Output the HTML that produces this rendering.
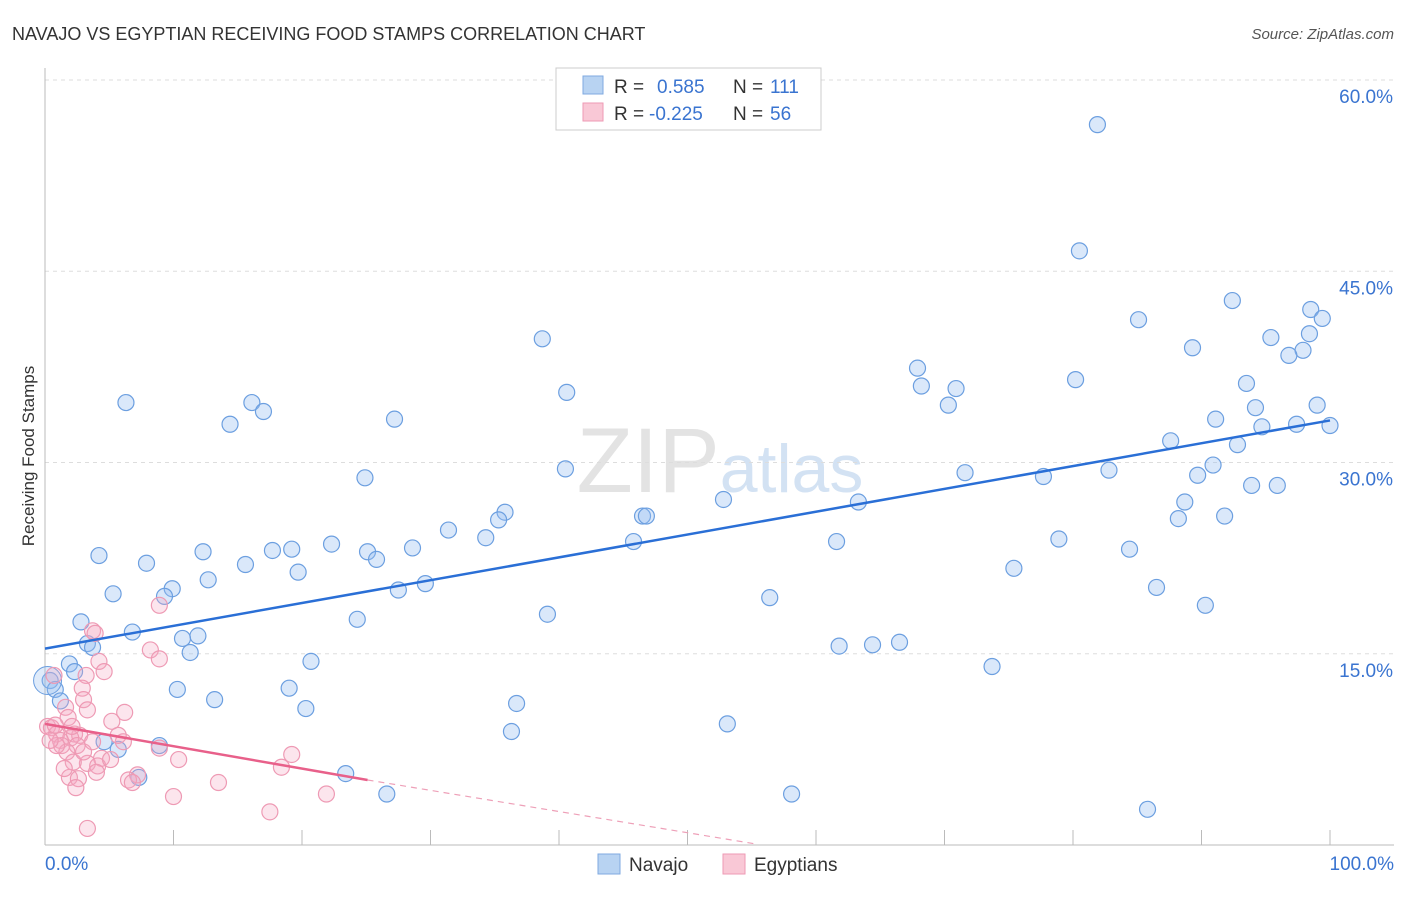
<!DOCTYPE html>
<html><head><meta charset="utf-8"><style>
body{margin:0;background:#fff;font-family:"Liberation Sans",sans-serif;}
svg text{font-family:"Liberation Sans",sans-serif;}
</style></head><body>
<svg id="chart" width="1406" height="892" xmlns="http://www.w3.org/2000/svg">
<text x="12" y="40" font-size="18" fill="#333">NAVAJO VS EGYPTIAN RECEIVING FOOD STAMPS CORRELATION CHART</text>
<text x="1394" y="39" font-size="15" fill="#555" text-anchor="end" font-style="italic">Source: ZipAtlas.com</text>
<text transform="translate(34,456) rotate(-90)" font-size="17" fill="#333" text-anchor="middle">Receiving Food Stamps</text>
<text x="720" y="492" font-size="92" fill="#e3e3e3" text-anchor="middle" font-family="Liberation Serif">ZIP<tspan fill="#d3e2f3" font-family="Liberation Sans" font-size="68">atlas</tspan></text>
<g id="grid"></g><g id="axes"></g><g id="pts"></g><g id="lines"></g>
<g>
<rect x="556" y="68" width="265" height="62" fill="#fff" stroke="#ccc"/>
<rect x="583" y="76" width="20" height="18" fill="#b8d3f2" stroke="#7fa9e0"/>
<rect x="583" y="103" width="20" height="18" fill="#f9c8d6" stroke="#ee9ab4"/>
<text x="614" y="93" font-size="19" fill="#333">R = </text><text x="657" y="93" font-size="19" fill="#3a74d0">0.585</text>
<text x="733" y="93" font-size="19" fill="#333">N = </text><text x="770" y="93" font-size="19" fill="#3a74d0">111</text>
<text x="614" y="120" font-size="19" fill="#333">R = </text><text x="649" y="120" font-size="19" fill="#3a74d0">-0.225</text>
<text x="733" y="120" font-size="19" fill="#333">N = </text><text x="770" y="120" font-size="19" fill="#3a74d0">56</text>
</g>
<g>
<rect x="598" y="854" width="22" height="20" fill="#b8d3f2" stroke="#7fa9e0"/>
<text x="629" y="871" font-size="19" fill="#333">Navajo</text>
<rect x="723" y="854" width="22" height="20" fill="#f9c8d6" stroke="#ee9ab4"/>
<text x="754" y="871" font-size="19" fill="#333">Egyptians</text>
</g>
</svg>
<script>
const navajoPx=[[1098,125],[1080,251],[1232,300],[1311,310],[1322,318],[1138,320],[1271,337],[1309,334],[1193,348],[1303,350],[1289,355],[542,339],[917,368],[1075,380],[1246,384],[921,386],[956,389],[567,393],[126,403],[252,403],[948,405],[263,411],[1256,408],[1317,405],[1216,419],[230,424],[395,419],[1262,427],[1296,424],[1330,426],[1171,441],[1237,445],[565,469],[965,473],[1109,470],[1213,465],[1198,475],[365,478],[1043,477],[1251,485],[1277,486],[723,499],[859,502],[1185,502],[505,512],[499,520],[643,516],[646,516],[1179,518],[1224,516],[449,530],[486,538],[633,542],[836,542],[1059,539],[331,544],[273,550],[292,549],[203,552],[99,555],[367,552],[413,548],[1130,549],[376,559],[146,563],[245,564],[298,572],[1014,568],[208,580],[172,589],[425,584],[399,590],[1156,588],[113,594],[165,597],[770,598],[548,614],[1205,605],[357,619],[81,622],[133,632],[198,636],[183,639],[87,643],[93,647],[839,646],[872,645],[899,642],[190,653],[311,661],[69,664],[75,671],[992,666],[50,680],[55,690],[177,689],[289,688],[215,700],[61,701],[306,709],[516,704],[727,724],[511,731],[104,742],[159,746],[118,749],[346,773],[139,778],[387,794],[792,794],[1147,809]];
const egyptPx=[[159,605],[93,631],[95,633],[151,650],[159,659],[99,662],[104,671],[86,675],[54,676],[82,688],[84,700],[65,707],[88,710],[125,712],[68,718],[112,721],[48,727],[52,728],[57,734],[75,734],[80,735],[71,738],[60,740],[77,745],[62,745],[124,742],[67,752],[101,758],[179,759],[292,755],[88,764],[73,762],[98,766],[281,767],[138,775],[70,777],[79,779],[128,780],[132,782],[218,782],[76,788],[326,794],[174,797],[270,812],[88,829],[56,745],[50,740],[97,772],[64,768],[118,735],[83,752],[160,748],[55,725],[92,742],[72,726],[110,760]];
// data values in percent
const navajoX=navajoPx.map(p=>+((p[0]-45)/12.85).toFixed(1));
const navajoY=navajoPx.map(p=>+((845-p[1])/12.75).toFixed(1));
const egyptX=egyptPx.map(p=>+((p[0]-45)/12.85).toFixed(1));
const egyptY=egyptPx.map(p=>+((845-p[1])/12.75).toFixed(1));
const yTicks=[15,30,45,60];
const yTickLabels=["15.0%","30.0%","45.0%","60.0%"];
const navajoTrend=[[0,15.4],[100,33.3]];
const egyptTrend=[[0,9.5],[25.1,5.1]];
const egyptTrendExt=[[25.1,5.1],[55.2,0.1]];
const X=v=>45+v*12.85, Y=v=>845-v*12.75;
const NS="http://www.w3.org/2000/svg";
function mk(tag,attrs,parent){const e=document.createElementNS(NS,tag);for(const k in attrs)e.setAttribute(k,attrs[k]);parent.appendChild(e);return e;}
const grid=document.getElementById('grid'),axes=document.getElementById('axes'),pts=document.getElementById('pts'),lines=document.getElementById('lines');
yTicks.forEach((t,i)=>{
 const l=mk('line',{x1:45,x2:1394,y1:Y(t),y2:Y(t),stroke:'#ddd','stroke-dasharray':'4,4'},grid);
 
 
 const tx=mk('text',{x:1393,y:Y(t)+23,'font-size':19,fill:'#3a74d0','text-anchor':'end'},grid);
 tx.textContent=yTickLabels[i];
 
 
});
const ya=mk('line',{x1:45,x2:45,y1:68,y2:845,stroke:'#bbb'},axes);


const xa=mk('line',{x1:45,x2:1394,y1:845,y2:845,stroke:'#bbb'},axes);


for(let i=0;i<=10;i++){const t=mk('line',{x1:X(i*10),x2:X(i*10),y1:830,y2:845,stroke:'#bbb'},axes);
 
 }
[[0,"0.0%",'start',45],[100,"100.0%",'end',1394]].forEach(d=>{const t=mk('text',{x:d[3],y:870,'font-size':19,fill:'#3a74d0','text-anchor':d[2]},axes);t.textContent=d[1];
 
 });
navajoX.forEach((x,i)=>{const c=mk('circle',{cx:X(x),cy:Y(navajoY[i]),r:8,fill:'rgba(150,190,240,0.35)',stroke:'#6c9fe0','stroke-width':1.2},pts);
 
 });
const big=mk('circle',{cx:X(0.2),cy:Y(12.9),r:14,fill:'rgba(150,190,240,0.3)',stroke:'#6c9fe0'},pts);


egyptX.forEach((x,i)=>{const c=mk('circle',{cx:X(x),cy:Y(egyptY[i]),r:8,fill:'rgba(245,170,195,0.3)',stroke:'#ee9ab4','stroke-width':1.2},pts);
 
 });
const nl=mk('line',{x1:X(navajoTrend[0][0]),y1:Y(navajoTrend[0][1]),x2:X(navajoTrend[1][0]),y2:Y(navajoTrend[1][1]),stroke:'#2a6fd6','stroke-width':2.5},lines);


const el=mk('line',{x1:X(egyptTrend[0][0]),y1:Y(egyptTrend[0][1]),x2:X(egyptTrend[1][0]),y2:Y(egyptTrend[1][1]),stroke:'#e8608a','stroke-width':2.5},lines);


const ed=mk('line',{x1:X(egyptTrendExt[0][0]),y1:Y(egyptTrendExt[0][1]),x2:X(egyptTrendExt[1][0]),y2:Y(egyptTrendExt[1][1]),stroke:'#eea0b8','stroke-width':1.2,'stroke-dasharray':'6,5'},lines);


</script>
</body></html>
